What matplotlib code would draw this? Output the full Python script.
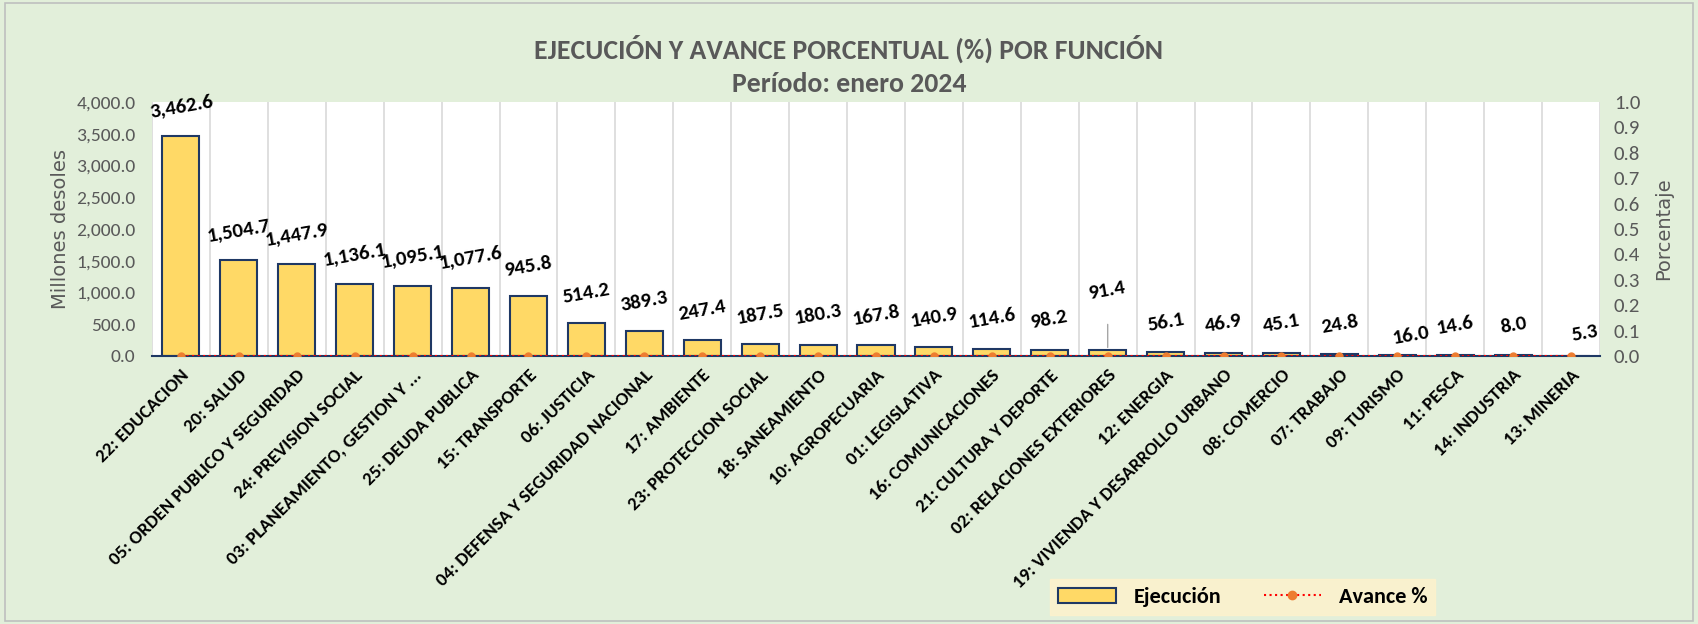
import numpy as np
import matplotlib
matplotlib.use("Agg")
import matplotlib.pyplot as plt
from matplotlib.patches import Patch, Rectangle
from matplotlib.lines import Line2D
from matplotlib.ticker import FuncFormatter, MultipleLocator

plt.rcParams['font.family'] = ['Carlito', 'Lato', 'DejaVu Sans']

# data
funciones = [
    '22: EDUCACION', '20: SALUD', '05: ORDEN PUBLICO Y SEGURIDAD',
    '24: PREVISION SOCIAL', '03: PLANEAMIENTO, GESTION Y ...', '25: DEUDA PUBLICA',
    '15: TRANSPORTE', '06: JUSTICIA', '04: DEFENSA Y SEGURIDAD NACIONAL',
    '17: AMBIENTE', '23: PROTECCION SOCIAL', '18: SANEAMIENTO',
    '10: AGROPECUARIA', '01: LEGISLATIVA', '16: COMUNICACIONES',
    '21: CULTURA Y DEPORTE', '02: RELACIONES EXTERIORES', '12: ENERGIA',
    '19: VIVIENDA Y DESARROLLO URBANO', '08: COMERCIO', '07: TRABAJO',
    '09: TURISMO', '11: PESCA', '14: INDUSTRIA', '13: MINERIA',
]
ejecucion = [3462.6, 1504.7, 1447.9, 1136.1, 1095.1, 1077.6, 945.8, 514.2, 389.3,
             247.4, 187.5, 180.3, 167.8, 140.9, 114.6, 98.2, 91.4, 56.1, 46.9,
             45.1, 24.8, 16.0, 14.6, 8.0, 5.3]
avance = [0.0] * 25

# label nudges (pixels) where the original labels were moved
label_nudge = {16: (0, 30), 21: (14, -10), 24: (14, -8)}

BG = '#E2EFDA'
BAR = '#FFD966'
EDGE = '#1F3864'
GREY = '#595959'

fig = plt.figure(figsize=(16.98, 6.24), dpi=100, facecolor=BG)
fig.patches.append(Rectangle((0.003, 0.005), 0.994, 0.99, transform=fig.transFigure,
                             fill=False, edgecolor='#BFBFBF', linewidth=1.2))
ax = fig.add_axes([0.0895, 0.4295, 0.8528, 0.4070])
ax.set_facecolor('white')

x = np.arange(len(funciones))
ax.bar(x, ejecucion, width=0.64, color=BAR, edgecolor=EDGE, linewidth=1.5, zorder=2)
ax.set_xlim(-0.5, len(funciones) - 0.5)
ax.set_ylim(0, 4000)
ax.yaxis.set_major_locator(MultipleLocator(500))
ax.yaxis.set_major_formatter(FuncFormatter(lambda v, p: f'{v:,.1f}'))
ax.tick_params(axis='y', length=0, labelsize=14, labelcolor=GREY, pad=12)
ax.set_ylabel('Millones desoles', fontsize=14, color=GREY, family='DejaVu Sans', labelpad=4)

ax.set_xticks(x)
ax.set_xticklabels(funciones, rotation=45, ha='right', rotation_mode='anchor',
                   fontsize=13.5, fontweight='bold')
ax.tick_params(axis='x', length=0, pad=8)
ax.set_xticks(np.arange(-0.5, len(funciones), 1), minor=True)
ax.tick_params(axis='x', which='minor', length=0)
ax.grid(True, which='minor', axis='x', color='#D9D9D9', linewidth=1.2, zorder=0)
ax.grid(False, which='major')

for s in ['top', 'left', 'right']:
    ax.spines[s].set_visible(False)
ax.spines['bottom'].set_color(EDGE)
ax.spines['bottom'].set_linewidth(1.5)

for i, v in enumerate(ejecucion):
    dx, dy = label_nudge.get(i, (0, 0))
    ax.annotate(f'{v:,.1f}', (i, v), xytext=(dx, 30 + dy), textcoords='offset pixels',
                ha='center', va='center', rotation=10, fontsize=15, fontweight='bold',
                color='black', zorder=5)
# leader line for the moved label
ax.annotate('', (16, ejecucion[16]), xytext=(16, ejecucion[16] + 450),
            arrowprops=dict(arrowstyle='-', color='#A6A6A6', lw=1))

ax2 = ax.twinx()
ax2.plot(x, avance, color='#FF0000', linestyle=':', linewidth=1.5,
         marker='o', markersize=5, markerfacecolor='#ED7D31', markeredgecolor='#ED7D31',
         zorder=4)
ax2.set_ylim(0, 1.0)
ax2.yaxis.set_major_locator(MultipleLocator(0.1))
ax2.yaxis.set_major_formatter(FuncFormatter(lambda v, p: f'{v:.1f}'))
ax2.tick_params(axis='y', length=0, labelsize=15, labelcolor=GREY, pad=10)
ax2.set_ylabel('Porcentaje', fontsize=14, color=GREY, family='DejaVu Sans', labelpad=10)
for s in ax2.spines.values():
    s.set_visible(False)

fig.text(0.5, 0.922, 'EJECUCIÓN Y AVANCE PORCENTUAL (%) POR FUNCIÓN', ha='center', va='center',
         fontsize=20, fontweight='bold', color=GREY)
fig.text(0.5, 0.866, 'Período: enero 2024', ha='center', va='center',
         fontsize=20, fontweight='bold', color=GREY)

handles = [Patch(facecolor=BAR, edgecolor=EDGE, linewidth=1.5, label='Ejecución'),
           Line2D([0], [0], color='#FF0000', linestyle=':', linewidth=1.5, marker='o',
                  markersize=6, markerfacecolor='#ED7D31', markeredgecolor='#ED7D31',
                  label='Avance %')]
leg = fig.legend(handles=handles, loc='center', bbox_to_anchor=(0.732, 0.043), ncol=2,
                 frameon=True, fancybox=False, prop={'weight': 'bold', 'size': 16},
                 handlelength=2.6, columnspacing=1.9, borderpad=0.35)
leg.get_frame().set_facecolor('#FFF2CC')
leg.get_frame().set_edgecolor('#FFF2CC')

fig.savefig('out.png', dpi=100, facecolor=BG)
